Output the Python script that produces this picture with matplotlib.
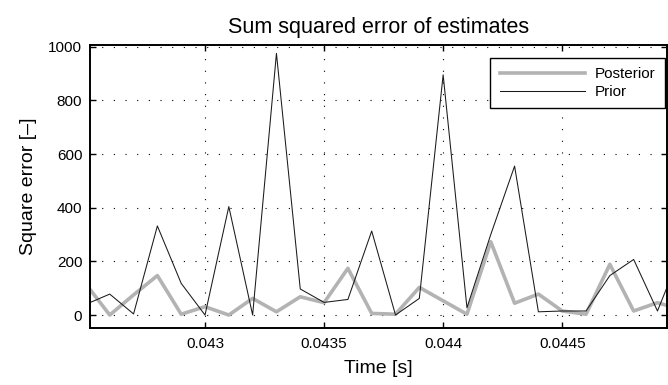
import numpy as np
import matplotlib
matplotlib.use("Agg")
import matplotlib.pyplot as plt

plt.rcParams['font.family'] = ['Liberation Sans', 'DejaVu Sans']

time_s = [0.0425, 0.0426, 0.0427, 0.0428, 0.0429, 0.0430, 0.0431, 0.0432, 0.0433,
          0.0434, 0.0435, 0.0436, 0.0437, 0.0438, 0.0439, 0.0440, 0.0441, 0.0442,
          0.0443, 0.0444, 0.0445, 0.0446, 0.0447, 0.0448, 0.0449, 0.0450]
posterior = [115, 0, 75, 147, 3, 31, 0, 62, 12, 68, 46, 174, 6, 3, 103, 53, 3, 273,
             44, 78, 15, 3, 189, 15, 46, 20]
prior = [40, 78, 4, 332, 118, 0, 404, 0, 975, 97, 47, 58, 313, 0, 62, 895, 27, 300,
         555, 12, 15, 15, 147, 207, 15, 235]

xticks = [0.043, 0.0435, 0.044, 0.0445]
xticklabels = ['0.043', '0.0435', '0.044', '0.0445']
yticks = [0, 200, 400, 600, 800, 1000]

fig = plt.figure(figsize=(6.68, 3.85), dpi=100)
ax = fig.add_axes([0.1347, 0.149, 0.8638, 0.734])

ax.plot(time_s, posterior, color='#b3b3b3', lw=2.6, label='Posterior')
ax.plot(time_s, prior, color='#1a1a1a', lw=0.75, label='Prior')

ax.set_xlim(0.042517, 0.04494)
ax.set_ylim(-47, 1006)
ax.set_xticks(xticks)
ax.set_xticklabels(xticklabels)
ax.set_yticks(yticks)

ax.grid(True, color='black', linestyle=(0, (1.0, 9.5)), linewidth=0.8)
ax.tick_params(direction='in', length=4, width=1, top=True, right=True, labelsize=11)
ax.tick_params(axis='x', pad=7)
ax.tick_params(axis='y', pad=5.5)
for sp in ax.spines.values():
    sp.set_linewidth(1.4)

ax.set_title('Sum squared error of estimates', fontsize=15.5, pad=9)
ax.set_xlabel('Time [s]', fontsize=14, labelpad=6)
ax.set_ylabel('Square error [–]', fontsize=14, labelpad=8)

leg = ax.legend(loc='upper right', bbox_to_anchor=(0.9965, 0.954), borderaxespad=0,
                fontsize=11, handlelength=5.6, frameon=True,
                fancybox=False, framealpha=1, edgecolor='black',
                borderpad=0.6, labelspacing=0.25, handletextpad=0.65)
leg.get_frame().set_linewidth(1.0)

fig.savefig('out.png', dpi=100)
